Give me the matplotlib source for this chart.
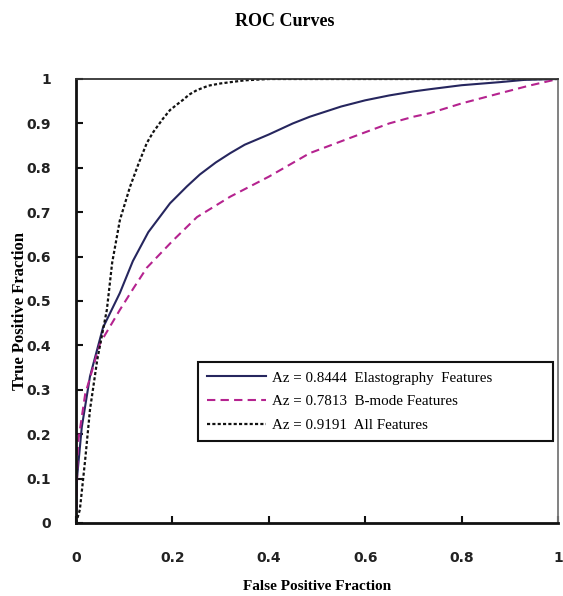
import matplotlib
matplotlib.use("Agg")
import matplotlib.pyplot as plt

# ---- data ----
elasto_fpr = [0, 0.002, 0.012, 0.029, 0.056, 0.091, 0.118, 0.15, 0.195, 0.23, 0.257, 0.29, 0.32, 0.35,
              0.40, 0.45, 0.485, 0.55, 0.60, 0.65, 0.70, 0.734, 0.80, 0.88, 0.93, 1.0]
elasto_tpr = [0, 0.10, 0.216, 0.33, 0.44, 0.518, 0.59, 0.655, 0.72, 0.758, 0.785, 0.812, 0.833, 0.852,
              0.875, 0.900, 0.915, 0.938, 0.952, 0.963, 0.972, 0.977, 0.986, 0.993, 0.998, 1.0]

bmode_fpr = [0, 0.004, 0.019, 0.05, 0.091, 0.12, 0.147, 0.20, 0.251, 0.32, 0.40, 0.485,
             0.568, 0.60, 0.65, 0.70, 0.734, 0.80, 0.88, 0.94, 1.0]
bmode_tpr = [0, 0.18, 0.29, 0.405, 0.48, 0.53, 0.575, 0.635, 0.689, 0.735, 0.78, 0.833,
             0.867, 0.88, 0.90, 0.915, 0.923, 0.945, 0.968, 0.985, 1.0]

all_fpr = [0, 0.008, 0.019, 0.029, 0.044, 0.064, 0.075, 0.091, 0.112, 0.13, 0.147, 0.16,
           0.18, 0.195, 0.21, 0.222, 0.235, 0.251, 0.275, 0.30, 0.35, 0.40, 0.5, 1.0]
all_tpr = [0, 0.03, 0.142, 0.255, 0.367, 0.48, 0.586, 0.682, 0.757, 0.81, 0.856, 0.88,
           0.91, 0.93, 0.943, 0.953, 0.965, 0.975, 0.985, 0.99, 0.997, 1.0, 1.0, 1.0]

labels = ["Az = 0.8444  Elastography  Features",
          "Az = 0.7813  B-mode Features",
          "Az = 0.9191  All Features"]
x_ticks = [0, 0.2, 0.4, 0.6, 0.8, 1]
x_ticklabels = ["0", "0.2", "0.4", "0.6", "0.8", "1"]
y_ticks = [0, 0.1, 0.2, 0.3, 0.4, 0.5, 0.6, 0.7, 0.8, 0.9, 1]
y_ticklabels = ["0", "0.1", "0.2", "0.3", "0.4", "0.5", "0.6", "0.7", "0.8", "0.9", "1"]

serif = ["Liberation Serif", "DejaVu Serif"]

fig = plt.figure(figsize=(5.63, 5.96), dpi=100)
ax = fig.add_axes([76 / 563, 1 - 523 / 596, (558 - 76) / 563, (523 - 79) / 596])

ax.plot(elasto_fpr, elasto_tpr, color="#26265e", lw=1.5, label=labels[0])
ax.plot(bmode_fpr, bmode_tpr, color="#b5238f", lw=1.5, dashes=(4, 2.5), label=labels[1])
ax.plot(all_fpr, all_tpr, color="#111111", lw=1.6, dashes=(1.4, 1.0), label=labels[2])

ax.set_xlim(0, 1)
ax.set_ylim(0, 1)
ax.set_xticks(x_ticks)
ax.set_xticklabels(x_ticklabels)
ax.set_yticks(y_ticks)
ax.set_yticklabels(y_ticklabels)
ax.tick_params(direction="in", length=5, width=1.5, colors="#111111")
ax.tick_params(axis="x", pad=20)
ax.tick_params(axis="y", pad=18)
for lab in ax.get_xticklabels() + ax.get_yticklabels():
    lab.set_fontfamily("DejaVu Sans")
    lab.set_fontweight("bold")
    lab.set_fontsize(10)
    lab.set_color("#222222")

for s in ["left", "bottom"]:
    ax.spines[s].set_linewidth(2.0)
    ax.spines[s].set_color("#111111")
ax.spines["top"].set_linewidth(1.3)
ax.spines["top"].set_color("#333333")
ax.spines["right"].set_linewidth(1.3)
ax.spines["right"].set_color("#777777")

ax.set_xlabel("False Positive Fraction", family=serif, fontweight="bold", fontsize=11)
ax.xaxis.set_label_coords(0.5, (523 - 586) / 444)
ax.xaxis.label.set_verticalalignment("center")
ax.set_ylabel("True Positive Fraction", family=serif, fontweight="bold", fontsize=12)
ax.yaxis.set_label_coords((20 - 76) / 482, (523 - 311) / 444)
ax.yaxis.label.set_verticalalignment("center")

fig.text(285 / 563, 1 - 21 / 596, "ROC Curves", family=serif, fontweight="bold",
         fontsize=13, ha="center", va="center")

leg = ax.legend(loc="upper left",
                bbox_to_anchor=((198 - 76) / 482, (523 - 362) / 444, (553 - 198) / 482, 0.0),
                mode="expand", alignment="center", prop={"family": serif, "size": 10.8},
                handlelength=3.9, handletextpad=0.4, labelspacing=0.68, borderpad=0.6,
                borderaxespad=0, frameon=True, fancybox=False, framealpha=1)
leg.get_frame().set_edgecolor("#111111")
leg.get_frame().set_linewidth(1.5)

fig.savefig("out.png", dpi=100)
